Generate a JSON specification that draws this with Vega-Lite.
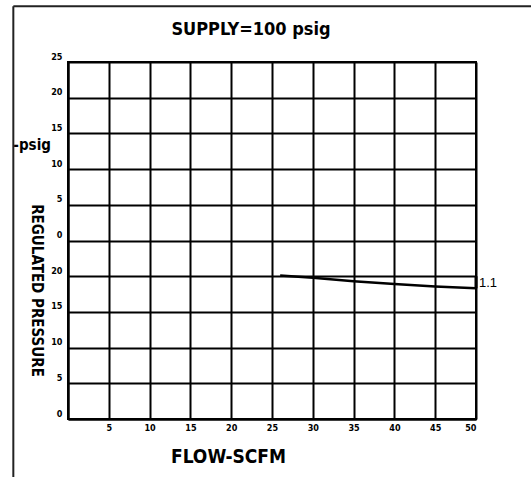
{
  "$schema": "https://vega.github.io/schema/vega-lite/v6.json",
  "autosize": "none",
  "width": 408,
  "height": 357,
  "padding": {"left": 68, "top": 62, "right": 55, "bottom": 58},
  "background": "white",
  "config": {
    "font": "Liberation Sans Narrow, DejaVu Sans Condensed, Arial Narrow, sans-serif",
    "view": {"stroke": "black", "strokeWidth": 2}
  },
  "title": {
    "text": "SUPPLY=100 psig",
    "fontSize": 18,
    "fontWeight": "bold",
    "color": "black",
    "anchor": "middle",
    "frame": "group",
    "baseline": "bottom",
    "dx": -21,
    "offset": -52
  },
  "datasets": {
    "curve": [
      {"flow": 26, "pressure": 20.1},
      {"flow": 30, "pressure": 19.8},
      {"flow": 35, "pressure": 19.3},
      {"flow": 40, "pressure": 18.9},
      {"flow": 45, "pressure": 18.55},
      {"flow": 50, "pressure": 18.3}
    ],
    "bracket": [{"flow": 50, "y1": 18.3, "y2": 20}],
    "label": [{"flow": 50, "pressure": 19.0, "text": "1.1"}],
    "unit": [{"flow": -6.7, "pressure": 38.4, "text": "-psig"}],
    "frameV": [{"flow": -6.7, "y1": -8.5, "y2": 57.8}],
    "frameH": [{"x1": -6.7, "x2": 57, "pressure": 57.8}]
  },
  "layer": [
    {
      "data": {"name": "curve"},
      "mark": {"type": "line", "color": "black", "strokeWidth": 2.5},
      "encoding": {
        "x": {
          "field": "flow", "type": "quantitative",
          "scale": {"domain": [0, 50], "nice": false},
          "axis": {
            "values": [0, 5, 10, 15, 20, 25, 30, 35, 40, 45, 50],
            "tickCount": 11,
            "labelOverlap": false,
            "labelExpr": "datum.value == 0 ? '' : datum.label",
            "title": "FLOW-SCFM",
            "titleFontSize": 19,
            "titleFontWeight": "bold",
            "titleColor": "black",
            "titleX": 160,
            "titleY": 37,
            "titleAlign": "center",
            "titleBaseline": "middle",
            "grid": true,
            "gridColor": "black",
            "gridWidth": 2,
            "gridOpacity": 1,
            "domainColor": "black",
            "domainWidth": 2,
            "ticks": false,
            "labelFontSize": 9,
            "labelFontWeight": "bold",
            "labelColor": "black",
            "labelPadding": 4
          }
        },
        "y": {
          "field": "pressure", "type": "quantitative",
          "scale": {"domain": [0, 50], "nice": false},
          "axis": {
            "values": [0, 5, 10, 15, 20, 25, 30, 35, 40, 45, 50],
            "tickCount": 11,
            "labelOverlap": false,
            "labelExpr": "datum.value <= 20 ? '' + datum.value : '' + (datum.value - 25)",
            "title": "REGULATED PRESSURE",
            "titleAngle": 90,
            "titleFontSize": 15,
            "titleFontWeight": "bold",
            "titleColor": "black",
            "titleX": -32,
            "titleY": 228,
            "titleAlign": "center",
            "titleBaseline": "middle",
            "grid": true,
            "gridColor": "black",
            "gridWidth": 2,
            "gridOpacity": 1,
            "domainColor": "black",
            "domainWidth": 2,
            "ticks": false,
            "labelFontSize": 9,
            "labelFontWeight": "bold",
            "labelColor": "black",
            "labelPadding": 6,
            "labelOffset": -6
          }
        }
      }
    },
    {
      "data": {"name": "bracket"},
      "mark": {"type": "rule", "color": "black", "strokeWidth": 3},
      "encoding": {
        "x": {"field": "flow", "type": "quantitative"},
        "y": {"field": "y1", "type": "quantitative"},
        "y2": {"field": "y2"}
      }
    },
    {
      "data": {"name": "label"},
      "mark": {"type": "text", "align": "left", "dx": 3, "fontSize": 13, "color": "black", "font": "Liberation Sans, Arial, sans-serif"},
      "encoding": {
        "x": {"field": "flow", "type": "quantitative"},
        "y": {"field": "pressure", "type": "quantitative"},
        "text": {"field": "text"}
      }
    },
    {
      "data": {"name": "unit"},
      "mark": {"type": "text", "align": "left", "baseline": "middle", "fontSize": 15, "fontWeight": "bold", "color": "black"},
      "encoding": {
        "x": {"field": "flow", "type": "quantitative"},
        "y": {"field": "pressure", "type": "quantitative"},
        "text": {"field": "text"}
      }
    },
    {
      "data": {"name": "frameV"},
      "mark": {"type": "rule", "color": "#222", "strokeWidth": 2},
      "encoding": {
        "x": {"field": "flow", "type": "quantitative"},
        "y": {"field": "y1", "type": "quantitative"},
        "y2": {"field": "y2"}
      }
    },
    {
      "data": {"name": "frameH"},
      "mark": {"type": "rule", "color": "#222", "strokeWidth": 2},
      "encoding": {
        "x": {"field": "x1", "type": "quantitative"},
        "x2": {"field": "x2"},
        "y": {"field": "pressure", "type": "quantitative"}
      }
    }
  ]
}
